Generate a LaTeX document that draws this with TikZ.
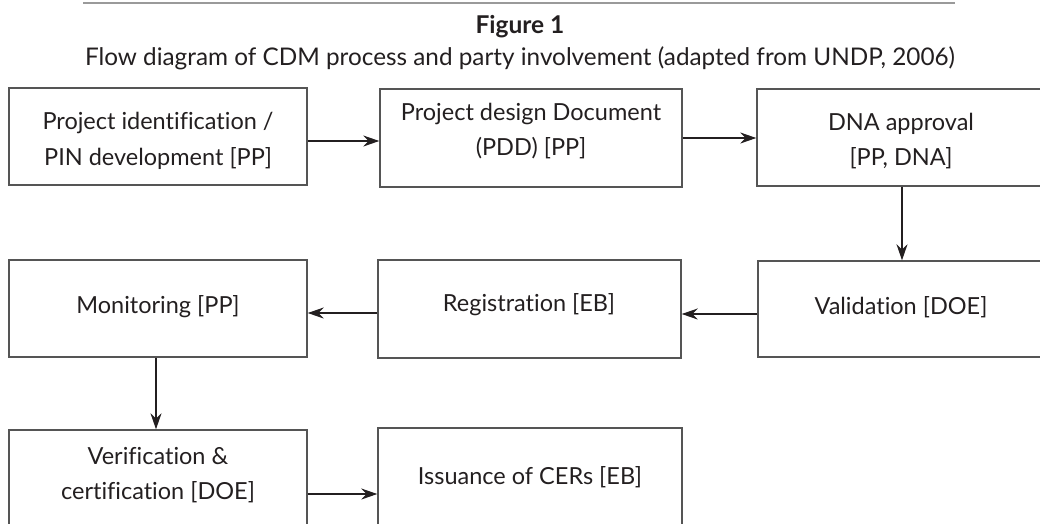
\documentclass[tikz,border=0pt]{standalone}
\usepackage{fontspec}
\setmainfont{Lato}[Ligatures={NoCommon}]
\usetikzlibrary{arrows.meta}
\definecolor{ink}{HTML}{231F20}
\definecolor{boxline}{HTML}{555555}
\definecolor{rule}{HTML}{9A9A9A}
\tikzset{
  stepbox/.style={draw=boxline, line width=1.4pt, rectangle, inner sep=0pt},
  txt/.style={text=ink, font=\fontsize{23.5}{35.5}\selectfont, align=center, inner sep=0pt},
  arr/.style={draw=ink, line width=1.2pt, -{Stealth[length=16pt,width=11pt]}}
}
\begin{document}
\begin{tikzpicture}[x=1pt,y=-1pt]
\useasboundingbox (0,0) rectangle (1040,523);
\clip (0,0) rectangle (1040,523);
\draw[rule, line width=2.8pt] (83,3) -- (955,3);
\node[txt, font=\fontsize{24.5}{28}\bfseries\selectfont] (fig) at (520,27) {Figure 1};
\node[txt, font=\fontsize{24.3}{28}\selectfont] (cap) at (520,58) {Flow diagram of CDM process and party involvement (adapted from UNDP, 2006)};
% boxes
\node[stepbox, minimum width=298, minimum height=97] (b1) at (158,136.5) {};
\node[stepbox, minimum width=302, minimum height=98] (b2) at (531,138) {};
\node[stepbox, minimum width=288, minimum height=97] (b3) at (901,137.5) {};
\node[stepbox, minimum width=287, minimum height=96] (b4) at (901.5,309) {};
\node[stepbox, minimum width=303, minimum height=98] (b5) at (529.5,309) {};
\node[stepbox, minimum width=298, minimum height=97] (b6) at (158,308.5) {};
\node[stepbox, minimum width=298, minimum height=110] (b7) at (158,485) {};
\node[stepbox, minimum width=304, minimum height=112] (b8) at (530,484) {};
% texts
\node[txt] (t1) at (158,141) {Project identification /\\PIN development [PP]};
\node[txt] (t2) at (531,131) {Project design Document\\(PDD) [PP]};
\node[txt] (t3) at (901,141) {DNA approval\\{}[PP, DNA]};
\node[txt] (t4) at (901,307) {Validation [DOE]};
\node[txt] (t5) at (529,305) {Registration [EB]};
\node[txt] (t6) at (158,307) {Monitoring [PP]};
\node[txt] (t7) at (158,475) {Verification \&\\certification [DOE]};
\node[txt] (t8) at (530,477) {Issuance of CERs [EB]};
% arrows
\draw[arr] ([yshift=-4.5]b1.east) -- ([yshift=-4.5]b1.east -| b2.west);
\draw[arr] (b2.east) -- (b2.east -| b3.west);
\draw[arr] ([xshift=1]b3.south) -- ([xshift=1]b3.south |- b4.north);
\draw[arr] ([yshift=-5]b4.west) -- ([yshift=-5]b4.west -| b5.east);
\draw[arr] ([yshift=-4]b5.west) -- ([yshift=-4]b5.west -| b6.east);
\draw[arr] ([xshift=-2]b6.south) -- ([xshift=-2]b6.south |- b7.north);
\draw[arr] ([yshift=-9]b7.east) -- ([yshift=-9]b7.east -| b8.west);
\end{tikzpicture}
\end{document}
